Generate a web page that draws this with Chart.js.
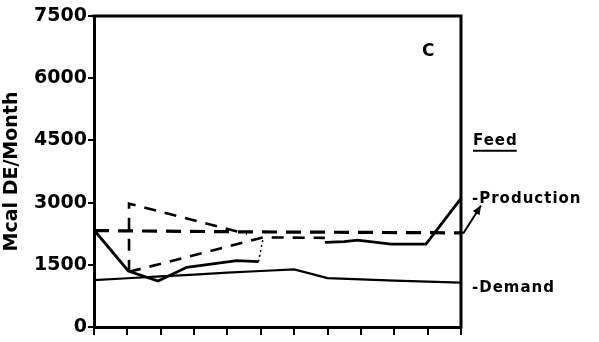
<!DOCTYPE html>
<html>
<head>
<meta charset="utf-8">
<script src="https://cdn.jsdelivr.net/npm/chart.js@4/dist/chart.umd.min.js"></script>
<style>
  html, body { margin: 0; padding: 0; background: #fff; }
  #wrap { width: 599px; height: 342px; position: relative; }
</style>
</head>
<body>
<div id="wrap"><canvas id="c" width="599" height="342"></canvas></div>
<script>
// ---- data (months 0..11 on x, Mcal DE/Month on y) ----
const yTicks = [0, 1500, 3000, 4500, 6000, 7500];
const months = [0, 1, 2, 3, 4, 5, 6, 7, 8, 9, 10, 11];
const demand = [1130, 1175, 1220, 1265, 1310, 1350, 1390, 1180, 1150, 1120, 1095, 1070];

const prodSolidAX = [0, 1.03, 1.92, 2.78, 4.28, 4.93];
const prodSolidAY = [2340, 1351, 1110, 1440, 1599, 1575];
const prodDottedX = [4.93, 5.07];
const prodDottedY = [1575, 2150];
const prodSolidBX = [6.92, 7.5, 7.9, 8.9, 9.95, 11];
const prodSolidBY = [2040, 2060, 2095, 2000, 2000, 3100];

const feedDashX = [0, 4.5, 11];
const feedDashY = [2325, 2295, 2270];
// leader arrow from the feed line (outside the frame) to the "Production" label
const feedArrowX = [11, 11.08, 11.6];
const feedArrowY = [2270, 2270, 2930];

const triTopX = [1.05, 1.05, 4.58];
const triTopY = [1330, 2975, 2243];
const triLowX = [1.05, 5.07, 6.92];
const triLowY = [1330, 2160, 2150];

const labelC = 'C';
const labelFeed = 'Feed';
const labelProd = '-Production';
const labelDem = '-Demand';

function pts(xs, ys) { return xs.map((x, i) => ({ x: x, y: ys[i] })); }

const black = '#000';

const annot = {
  id: 'annot',
  afterDatasetsDraw(chart) {
    const { ctx, chartArea: a, scales } = chart;
    const xs = scales.x, ys = scales.y;
    ctx.save();
    // top and right frame
    ctx.strokeStyle = black;
    ctx.lineWidth = 3;
    ctx.beginPath();
    ctx.moveTo(a.left - 1.5, a.top);
    ctx.lineTo(a.right, a.top);
    ctx.lineTo(a.right, a.bottom + 1.5);
    ctx.stroke();

    // leader arrow
    const px = feedArrowX.map(v => xs.getPixelForValue(v));
    const py = feedArrowY.map(v => ys.getPixelForValue(v));
    ctx.lineWidth = 2;
    ctx.beginPath();
    ctx.moveTo(px[0], py[0]);
    for (let i = 1; i < px.length; i++) ctx.lineTo(px[i], py[i]);
    ctx.stroke();
    const n = px.length - 1;
    const ang = Math.atan2(py[n] - py[n - 1], px[n] - px[n - 1]);
    const L = 9, W = 4;
    ctx.fillStyle = black;
    ctx.beginPath();
    ctx.moveTo(px[n], py[n]);
    ctx.lineTo(px[n] - L * Math.cos(ang) + W * Math.sin(ang), py[n] - L * Math.sin(ang) - W * Math.cos(ang));
    ctx.lineTo(px[n] - L * Math.cos(ang) - W * Math.sin(ang), py[n] - L * Math.sin(ang) + W * Math.cos(ang));
    ctx.closePath();
    ctx.fill();

    ctx.textBaseline = 'middle';
    ctx.textAlign = 'left';
    // C
    ctx.font = 'bold 17px "DejaVu Sans"';
    ctx.fillText(labelC, xs.getPixelForValue(9.83), ys.getPixelForValue(6650));
    // right-side texts
    ctx.font = 'bold 15px "DejaVu Sans"';
    try { ctx.letterSpacing = '1px'; } catch (e) {}
    const lx = a.right + 11;
    const fy = ys.getPixelForValue(4490);
    ctx.fillText(labelFeed, lx + 1, fy);
    const fw = ctx.measureText(labelFeed).width;
    ctx.lineWidth = 2;
    ctx.beginPath();
    ctx.moveTo(lx + 1, fy + 10);
    ctx.lineTo(lx + fw, fy + 10);
    ctx.stroke();
    ctx.fillText(labelProd, lx, ys.getPixelForValue(3090));
    ctx.fillText(labelDem, lx, ys.getPixelForValue(940));
    ctx.restore();
  }
};

new Chart(document.getElementById('c'), {
  type: 'line',
  data: {
    datasets: [
      { label: 'Demand', data: pts(months, demand), borderColor: black, borderWidth: 2.2, pointRadius: 0, tension: 0 },
      { label: 'Production', data: pts(prodSolidAX, prodSolidAY), borderColor: black, borderWidth: 2.8, pointRadius: 0 },
      { label: 'Production dotted', data: pts(prodDottedX, prodDottedY), borderColor: black, borderWidth: 1.5, borderDash: [2, 3], pointRadius: 0 },
      { label: 'Production 2', data: pts(prodSolidBX, prodSolidBY), borderColor: black, borderWidth: 2.8, pointRadius: 0 },
      { label: 'Feed', data: pts(feedDashX, feedDashY), borderColor: black, borderWidth: 3.2, borderDash: [15, 9], pointRadius: 0 },
      { label: 'Tri top', data: pts(triTopX, triTopY), borderColor: black, borderWidth: 2.6, borderDash: [12, 9], pointRadius: 0 },
      { label: 'Tri low', data: pts(triLowX, triLowY), borderColor: black, borderWidth: 2.6, borderDash: [12, 9], pointRadius: 0 }
    ]
  },
  options: {
    responsive: false,
    animation: false,
    events: [],
    layout: { padding: { left: 0, top: 16, right: 138, bottom: 0 } },
    plugins: { legend: { display: false }, tooltip: { enabled: false }, title: { display: false } },
    scales: {
      x: {
        type: 'linear', min: 0, max: 11,
        afterBuildTicks: s => { s.ticks = months.map(v => ({ value: v })); },
        afterFit: s => { s.height = 15; },
        ticks: { callback: () => '', padding: 0 },
        grid: { display: true, drawOnChartArea: false, drawTicks: true, tickLength: 8, lineWidth: 2, color: black },
        border: { display: true, width: 3, color: black }
      },
      y: {
        type: 'linear', min: 0, max: 7500,
        afterBuildTicks: s => { s.ticks = yTicks.map(v => ({ value: v })); },
        afterFit: s => { s.width = 94; },
        ticks: { color: black, padding: 1, callback: v => String(v), font: { family: 'DejaVu Sans', weight: 'bold', size: 19 } },
        grid: { display: true, drawOnChartArea: false, drawTicks: true, tickLength: 6, lineWidth: 2, color: black },
        border: { display: true, width: 3, color: black },
        title: { display: true, text: 'Mcal DE/Month', color: black, padding: { top: 1, bottom: 0 },
                 font: { family: 'DejaVu Sans', weight: 'bold', size: 19 } }
      }
    }
  },
  plugins: [annot]
});
</script>
</body>
</html>
